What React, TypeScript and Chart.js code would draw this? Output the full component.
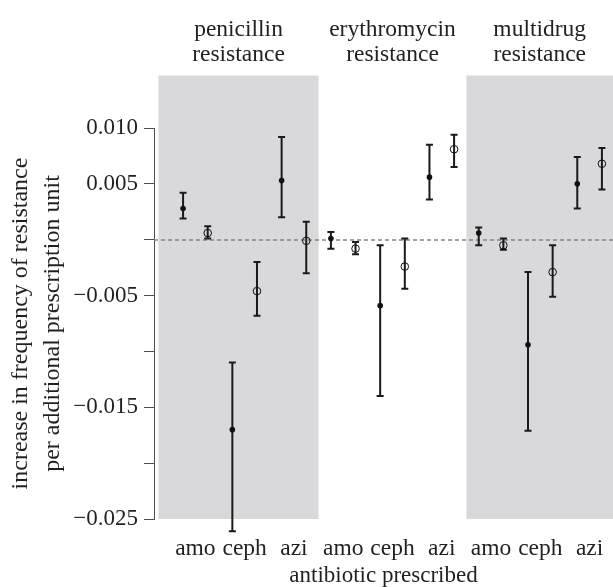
import { useEffect, useRef } from 'react';
import { Chart, registerables } from 'chart.js';

Chart.register(...registerables);

// ---- data ----
const resistanceTypes: string[][] = [
  ['penicillin', 'resistance'],
  ['erythromycin', 'resistance'],
  ['multidrug', 'resistance'],
];
const antibiotics = ['amo', 'ceph', 'azi'];

// order: penicillin (amo, ceph, azi), erythromycin (amo, ceph, azi), multidrug (amo, ceph, azi)
const filledMean = [0.0028, -0.0170, 0.0053, 0.0001, -0.0059, 0.0056, 0.0006, -0.0094, 0.0050];
const filledLow = [0.0019, -0.0261, 0.0020, -0.0008, -0.0140, 0.0036, -0.0005, -0.0171, 0.0028];
const filledHigh = [0.0042, -0.0110, 0.0092, 0.0007, -0.0005, 0.0085, 0.0011, -0.0029, 0.0074];

const openMean = [0.0006, -0.0046, -0.0001, -0.0008, -0.0024, 0.0081, -0.0005, -0.0029, 0.0068];
const openLow = [0.0001, -0.0068, -0.0030, -0.0013, -0.0044, 0.0065, -0.0009, -0.0051, 0.0045];
const openHigh = [0.0012, -0.0020, 0.0016, -0.0002, 0.0001, 0.0094, 0.0001, -0.0005, 0.0082];

const yTickValues = [-0.025, -0.02, -0.015, -0.01, -0.005, 0, 0.005, 0.01];
const yTickLabels = ['\u22120.025', '', '\u22120.015', '', '\u22120.005', '', '0.005', '0.010'];

const yTitle = ['increase in frequency of resistance', 'per additional prescription unit'];
const xTitle = 'antibiotic prescribed';

// ---- layout constants ----
const X_MIN = -1.18;
const X_MAX = 17.45;
const Y_MIN = -0.025;
const Y_MAX = 0.01;
const PANEL_TOP = 0.0147;
const FONT = "'Liberation Serif', 'Times New Roman', serif";
const TEXT = '#231f20';

const xPos = (panel: number, drug: number, open: number) => panel * 6 + drug * 2 + open;

const panelEdges = [-1, 5.5, 11.5, X_MAX];
const shaded = [true, false, true];

function buildPoints(mean: number[], lo: number[], hi: number[], open: number) {
  const pts: any[] = [];
  for (let p = 0; p < 3; p++) {
    for (let d = 0; d < 3; d++) {
      const i = p * 3 + d;
      pts.push({ x: xPos(p, d, open), y: mean[i], lo: lo[i], hi: hi[i] });
    }
  }
  return pts;
}

const panelPlugin = {
  id: 'panels',
  beforeDraw(chart: any) {
    const { ctx, scales } = chart;
    const x = scales.x;
    const y = scales.y;
    ctx.save();
    ctx.fillStyle = '#d9d9db';
    const top = y.getPixelForValue(PANEL_TOP);
    const bottom = y.getPixelForValue(Y_MIN);
    for (let p = 0; p < 3; p++) {
      if (!shaded[p]) continue;
      const l = x.getPixelForValue(panelEdges[p]);
      const r = x.getPixelForValue(panelEdges[p + 1]);
      ctx.fillRect(l, top, r - l, bottom - top);
    }
    ctx.restore();
  },
  beforeDatasetsDraw(chart: any) {
    const { ctx, scales, chartArea } = chart;
    const x = scales.x;
    const y = scales.y;
    ctx.save();
    ctx.setLineDash([4, 3]);
    ctx.strokeStyle = '#858585';
    ctx.lineWidth = 1.5;
    const y0 = Math.round(y.getPixelForValue(0));
    ctx.beginPath();
    ctx.moveTo(chartArea.left, y0);
    ctx.lineTo(chartArea.right, y0);
    ctx.stroke();
    ctx.setLineDash([]);
    ctx.strokeStyle = '#1a1a1a';
    ctx.lineWidth = 2;
    chart.data.datasets.forEach((ds: any) => {
      ds.data.forEach((pt: any) => {
        const px = x.getPixelForValue(pt.x);
        const pl = y.getPixelForValue(pt.lo);
        const ph = y.getPixelForValue(pt.hi);
        const cap = 3.5;
        ctx.beginPath();
        ctx.moveTo(px, pl);
        ctx.lineTo(px, ph);
        ctx.moveTo(px - cap, pl);
        ctx.lineTo(px + cap, pl);
        ctx.moveTo(px - cap, ph);
        ctx.lineTo(px + cap, ph);
        ctx.stroke();
      });
    });
    ctx.restore();
  },
};

export default function App() {
  const ref = useRef<HTMLCanvasElement | null>(null);

  useEffect(() => {
    document.body.style.margin = '0';
    const canvas = ref.current;
    if (!canvas) return;

    const bottomTicks: number[] = [];
    for (let p = 0; p < 3; p++) for (let d = 0; d < 3; d++) bottomTicks.push(xPos(p, d, 0) + 0.5);
    const topTicks = [0, 1, 2].map((p) => (panelEdges[p] + panelEdges[p + 1]) / 2);

    const chart = new Chart(canvas, {
      type: 'scatter',
      data: {
        datasets: [
          {
            label: 'filled',
            data: buildPoints(filledMean, filledLow, filledHigh, 0),
            pointRadius: 2.8,
            pointBackgroundColor: '#111',
            pointBorderWidth: 0,
            showLine: false,
          },
          {
            label: 'open',
            data: buildPoints(openMean, openLow, openHigh, 1),
            pointRadius: 3.8,
            pointBackgroundColor: 'rgba(0,0,0,0)',
            pointBorderColor: '#111',
            pointBorderWidth: 1,
            showLine: false,
          },
        ],
      },
      options: {
        animation: false,
        responsive: false,
        events: [],
        layout: { padding: 0, autoPadding: false },
        plugins: { legend: { display: false }, tooltip: { enabled: false } },
        scales: {
          x: {
            type: 'linear',
            position: 'bottom',
            min: X_MIN,
            max: X_MAX,
            grid: { display: false, drawTicks: false },
            border: { display: false },
            afterBuildTicks: (s: any) => {
              s.ticks = bottomTicks.map((v) => ({ value: v }));
            },
            afterFit: (s: any) => {
              s.height = 68;
              s.paddingLeft = 0;
              s.paddingRight = 0;
            },
            ticks: {
              autoSkip: false,
              maxRotation: 0,
              minRotation: 0,
              padding: 16,
              color: TEXT,
              font: { family: FONT, size: 23.5 },
              callback: (_v: any, i: number) => antibiotics[i % 3],
            },
            title: {
              display: true,
              text: xTitle,
              color: TEXT,
              font: { family: FONT, size: 23, lineHeight: 1 },
              padding: { top: 0, bottom: 0 },
            },
          },
          xTop: {
            type: 'linear',
            position: 'top',
            min: X_MIN,
            max: X_MAX,
            grid: { display: false, drawTicks: false },
            border: { display: false },
            afterBuildTicks: (s: any) => {
              s.ticks = topTicks.map((v) => ({ value: v }));
            },
            afterFit: (s: any) => {
              s.height = 128;
              s.paddingLeft = 0;
              s.paddingRight = 0;
            },
            ticks: {
              autoSkip: false,
              maxRotation: 0,
              minRotation: 0,
              padding: 60.5,
              color: TEXT,
              font: { family: FONT, size: 23.5, lineHeight: 25 / 23.5 },
              callback: (_v: any, i: number) => resistanceTypes[i],
            },
          },
          y: {
            type: 'linear',
            position: 'left',
            min: Y_MIN,
            max: Y_MAX,
            grid: {
              display: true,
              drawOnChartArea: false,
              drawTicks: true,
              tickLength: 10,
              color: '#4d4d4d',
              lineWidth: 1,
            },
            border: { display: true, color: '#4d4d4d', width: 1 },
            afterBuildTicks: (s: any) => {
              s.ticks = yTickValues.map((v) => ({ value: v }));
            },
            afterFit: (s: any) => {
              s.width = 154;
            },
            ticks: {
              autoSkip: false,
              padding: 6,
              color: TEXT,
              font: { family: FONT, size: 23 },
              callback: (v: any) => {
                const idx = yTickValues.findIndex((t) => Math.abs(t - v) < 1e-9);
                return idx >= 0 ? yTickLabels[idx] : '';
              },
            },
            title: {
              display: true,
              text: yTitle,
              color: TEXT,
              font: { family: FONT, size: 24, lineHeight: 1.3 },
              padding: { top: 5.5, bottom: 0 },
            },
          },
        },
      },
      plugins: [panelPlugin],
    } as any);

    return () => chart.destroy();
  }, []);

  return <canvas ref={ref} width={613} height={587} style={{ display: 'block' }} />;
}
